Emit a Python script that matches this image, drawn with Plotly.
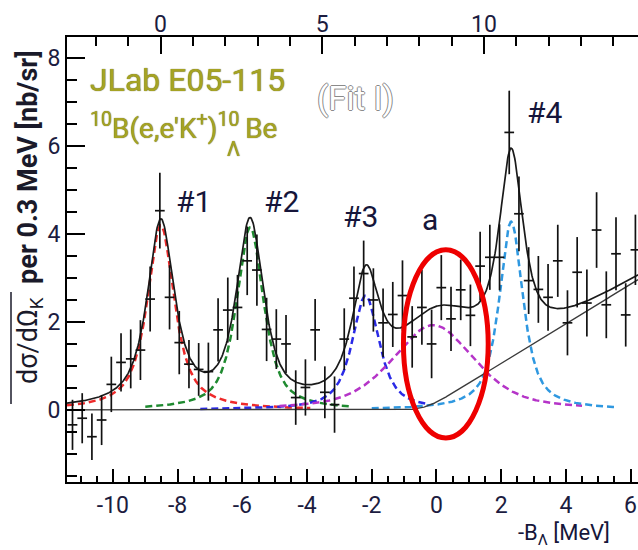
import math
import numpy as np
import plotly.graph_objects as go

# ---------------- measured spectrum (0.3 MeV bins) ----------------
BIN_START = -11.25          # centre of the first bin [MeV]
BIN_WIDTH = 0.3             # bin width [MeV]

yield_vals = [-0.34, -0.19, -0.61, -0.23, 0.58, 1.08, 1.16, 1.36, 2.52, 4.53,
              2.56, 1.53, 1.04, 0.92, 0.87, 1.82, 2.27, 2.33, 3.39, 3.18,
              1.83, 1.61, 1.50, 0.28, 0.51, 1.82, 0.40, 0.12, 1.61, 2.54,
              3.10, 2.50, 1.98, 2.17, 2.60, 1.66, 2.33, 1.50, 2.78, 2.07,
              2.73, 2.15, 3.27, 3.47, 3.47, 6.31, 4.46, 2.94, 2.74, 2.56,
              3.39, 1.98, 3.13, 2.43, 4.09, 2.39, 3.55, 2.16, 3.64]
yield_errs = [0.57, 0.57, 0.53, 0.57, 0.63, 0.66, 0.67, 0.68, 0.74, 0.86,
              0.73, 0.72, 0.55, 0.60, 0.66, 0.72, 0.74, 0.74, 0.78, 0.81,
              0.72, 0.68, 0.66, 0.62, 0.64, 0.70, 0.59, 0.64, 0.70, 0.72,
              0.75, 0.72, 0.78, 0.74, 0.80, 0.70, 0.85, 0.78, 0.74, 0.73,
              0.69, 0.70, 0.78, 0.74, 0.75, 0.95, 0.85, 0.76, 0.76, 0.76,
              0.82, 0.74, 0.80, 0.76, 0.86, 0.76, 0.83, 0.72, 0.80]
x_bins = BIN_START + BIN_WIDTH * np.arange(len(yield_vals))

# ---------------- fit (Fit I): peak components ----------------
peak_labels  = ["#1", "#2", "#3", "a", "#4"]
peak_centers = [-8.52, -5.76, -2.19, -0.10, 2.31]     # -B_Lambda [MeV]
peak_heights = [4.20, 4.15, 2.60, 1.93, 4.28]         # nb/sr per 0.3 MeV
peak_fwhm    = [1.00, 1.00, 1.00, 3.00, 0.88]         # MeV
peak_eta     = [0.85, 0.75, 0.80, 0.50, 0.80]         # Lorentzian fraction
peak_from    = [-11.42, -9.00, -7.30, -4.85, -2.00]   # drawn range of each component
peak_to      = [-3.90, -2.60, -0.30, 4.50, 5.55]
peak_colors  = ["#ee2a2a", "#1f8a30", "#2a2ae6", "#b534c8", "#2f98e0"]

# quasi-free background: smeared linear ramp above threshold
bg_slope = 0.45
bg_threshold = -0.35
bg_smear = 0.40

X_RANGE = [-11.42, 6.23]
Y_RANGE = [-1.64, 8.48]
TOP_SHIFT = 8.53            # offset of the upper scale relative to -B_Lambda

x_ticks = [-10, -8, -6, -4, -2, 0, 2, 4, 6]
x_ticktext = ["-10", "-8", "-6", "-4", "-2", "0", "2", "4", "6"]
y_ticks = [0, 2, 4, 6, 8]
top_ticks = [0, 5, 10]


def pseudo_voigt(x, c, h, w, eta):
    d = (x - c) / (w / 2.0)
    lor = 1.0 / (1.0 + d * d)
    gau = np.exp(-math.log(2.0) * d * d)
    return h * (eta * lor + (1.0 - eta) * gau)


def background(x):
    t = (x - bg_threshold) / bg_smear
    phi = np.exp(-0.5 * t * t) / math.sqrt(2 * math.pi)
    cdf = 0.5 * (1.0 + np.array([math.erf(v / math.sqrt(2)) for v in t]))
    return bg_slope * bg_smear * (t * cdf + phi)


xs = np.linspace(X_RANGE[0], X_RANGE[1], 900)
total = background(xs)
for c, h, w, e in zip(peak_centers, peak_heights, peak_fwhm, peak_eta):
    total = total + pseudo_voigt(xs, c, h, w, e)

fig = go.Figure()

# dashed peak components
for c, h, w, e, a, b, col in zip(peak_centers, peak_heights, peak_fwhm, peak_eta,
                                  peak_from, peak_to, peak_colors):
    xx = np.linspace(a, b, 400)
    fig.add_trace(go.Scatter(x=xx, y=pseudo_voigt(xx, c, h, w, e), mode="lines",
                             line=dict(color=col, width=2.5, dash="7px,4px"),
                             hoverinfo="skip", showlegend=False))

# background and total fit
fig.add_trace(go.Scatter(x=xs, y=background(xs), mode="lines",
                         line=dict(color="#3a3a3a", width=1.4),
                         hoverinfo="skip", showlegend=False))
fig.add_trace(go.Scatter(x=xs, y=total, mode="lines",
                         line=dict(color="#1a1a1a", width=1.7),
                         hoverinfo="skip", showlegend=False))

# data with statistical errors and bin widths
fig.add_trace(go.Scatter(
    x=x_bins, y=yield_vals, mode="markers",
    marker=dict(size=1, color="#111111"),
    error_y=dict(type="data", array=yield_errs, width=0, thickness=1.7, color="#111111"),
    error_x=dict(type="constant", value=BIN_WIDTH / 2, width=0, thickness=1.7, color="#111111"),
    showlegend=False))

# carrier for the upper scale
fig.add_trace(go.Scatter(x=[top_ticks[0]], y=[None], xaxis="x2", mode="markers",
                         marker=dict(opacity=0), showlegend=False, hoverinfo="skip"))

TICK_FONT = dict(family="Roboto, Arial, sans-serif", size=23, color="#1c1c40")
axis_common = dict(showgrid=False, zeroline=False, showline=True, linewidth=2,
                   linecolor="black", ticks="inside", tickcolor="black", tickwidth=1.5,
                   tickfont=TICK_FONT, mirror=False)

fig.update_layout(
    width=638, height=550,
    margin=dict(l=67, r=0, t=37, b=68),
    paper_bgcolor="white", plot_bgcolor="white",
    showlegend=False,
    xaxis=dict(range=X_RANGE, tickmode="array", tickvals=x_ticks, ticktext=x_ticktext,
               ticklen=13, ticklabelstandoff=1,
               minor=dict(ticks="inside", tickmode="linear", tick0=0, dtick=0.5,
                          ticklen=6, tickcolor="black", tickwidth=1.5, showgrid=False),
               **axis_common),
    xaxis2=dict(range=[X_RANGE[0] + TOP_SHIFT, X_RANGE[1] + TOP_SHIFT], overlaying="x",
                side="top", anchor="y", tickmode="array", tickvals=top_ticks,
                ticklen=17, ticklabelstandoff=-6,
                minor=dict(ticks="inside", tickmode="linear", tick0=0, dtick=1,
                           ticklen=9, tickcolor="black", tickwidth=1.5, showgrid=False),
                **axis_common),
    yaxis=dict(range=Y_RANGE, tickmode="array", tickvals=y_ticks, ticklen=18,
               ticklabelstandoff=0,
               minor=dict(ticks="inside", tickmode="linear", tick0=0, dtick=0.5,
                          ticklen=10, tickcolor="black", tickwidth=1.5, showgrid=False),
               **axis_common),
)

NARROW = "Liberation Sans Narrow, Roboto, Arial, sans-serif"
LABEL_COL = "#16163a"
OLIVE = "#a6a324"
OLIVE_EDGE = "0 0 1px #4f4d05"

annotations = []
label_pos = [(-7.52, 4.75), (-4.78, 4.75), (-2.36, 4.39), (-0.20, 4.34), (3.33, 6.76)]
for txt, (lx, ly) in zip(peak_labels, label_pos):
    annotations.append(dict(x=lx, y=ly, xref="x", yref="y", text=txt, showarrow=False,
                            xanchor="center", yanchor="middle",
                            font=dict(family=NARROW, size=30, color=LABEL_COL)))

annotations += [
    dict(x=-10.77, y=7.50, xref="x", yref="y", xanchor="left", yanchor="middle",
         text="JLab E05-115", showarrow=False,
         font=dict(family=NARROW, size=32, color=OLIVE, shadow=OLIVE_EDGE)),
    dict(x=-10.77, y=6.45, xref="x", yref="y", xanchor="left", yanchor="middle",
         text="<sup>10</sup>B(e,e′K<sup>+</sup>)<sup>10</sup>\u2009Be",
         showarrow=False,
         font=dict(family=NARROW, size=28, color=OLIVE, shadow=OLIVE_EDGE)),
    # hypernuclear Lambda subscript sitting below the mass number
    dict(x=-6.27, y=5.93, xref="x", yref="y", xanchor="center", yanchor="middle",
         text="Λ", showarrow=False,
         font=dict(family=NARROW, size=20, color=OLIVE, shadow=OLIVE_EDGE)),
    dict(x=-2.51, y=7.09, xref="x", yref="y", xanchor="center", yanchor="middle",
         text="(Fit I)", showarrow=False,
         font=dict(family=NARROW, size=33, color="white",
                   shadow="1px 0 0 #8a8a8a, -1px 0 0 #8a8a8a, 0 1px 0 #8a8a8a, 0 -1px 0 #8a8a8a")),
    dict(x=(564 - 67) / 571, y=(482 - 534) / 445, xref="paper", yref="paper",
         xanchor="center", yanchor="middle",
         text="-B<sub>Λ</sub> [MeV]", showarrow=False,
         font=dict(family="Roboto, Arial, sans-serif", size=22, color=LABEL_COL)),
    dict(x=(30 - 67) / 571, y=(482 - 217) / 445, xref="paper", yref="paper",
         xanchor="center", yanchor="middle",
         text="dσ/dΩ<sub>K</sub>  <b>per 0.3 MeV [nb/sr]</b>", textangle=-90,
         showarrow=False,
         font=dict(family="Roboto, Arial, sans-serif", size=27, color="#1a1a2a")),
]
fig.update_layout(annotations=annotations)

fig.update_layout(shapes=[
    # highlighted structure around peak "a"
    dict(type="circle", xref="x", yref="y", x0=-1.02, x1=1.60, y0=-0.64, y1=3.64,
         line=dict(color="#ee0000", width=5), layer="above"),
    # overline of the averaged cross section symbol
    dict(type="line", xref="paper", yref="paper",
         x0=(11 - 67) / 571, x1=(11 - 67) / 571,
         y0=(482 - 292) / 445, y1=(482 - 404) / 445,
         line=dict(color="#1a1a2a", width=1.5)),
])

fig.write_html("out.html")
